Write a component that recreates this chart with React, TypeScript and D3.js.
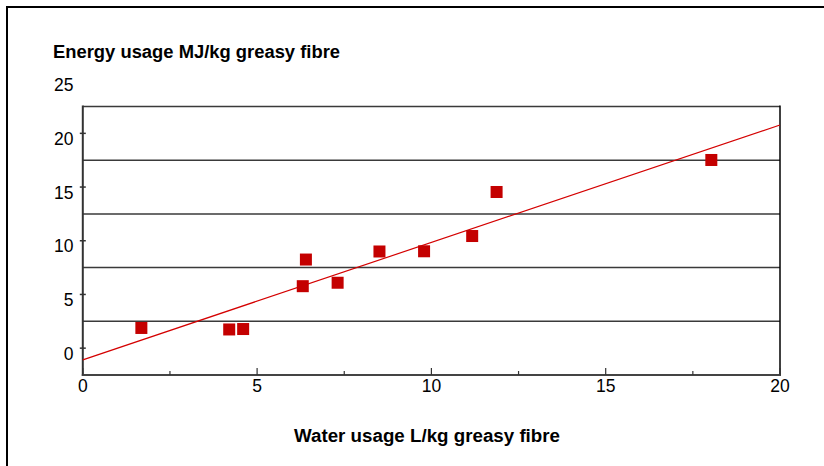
import React from "react";
import * as d3 from "d3";

const waterUsage = [1.68, 4.2, 4.6, 6.31, 6.4, 7.31, 8.51, 9.79, 11.17, 11.87, 18.03];
const energyUsage = [1.88, 1.74, 1.78, 5.77, 8.25, 6.09, 9.0, 9.02, 10.44, 14.54, 17.52];
const trendX = [0, 20];
const trendY = [-1.09, 20.78];
const xTickValues = [0, 5, 10, 15, 20];
const xMinorTicks = [2.5, 7.5, 12.5, 17.5];
const yTickValues = [0, 5, 10, 15, 20, 25];
const yGridValues = [2.5, 7.5, 12.5, 17.5, 22.5];
const yTitle = "Energy usage MJ/kg greasy fibre";
const xTitle = "Water usage L/kg greasy fibre";

export default function App() {
  const W = 824;
  const H = 466;
  const left = 82.8;
  const right = 780;
  const top = 106.5;
  const bottom = 375;
  const x = d3.scaleLinear().domain([0, 20]).range([left, right]);
  const y = d3.scaleLinear().domain([-2.5, 22.5]).range([bottom, top]);
  const font = "'Liberation Sans', Arial, sans-serif";
  const sq = 12;
  const line = d3
    .line<number>()
    .x((_, i) => x(trendX[i]))
    .y((d) => y(d));

  return (
    <svg
      width={W}
      height={H}
      style={{ position: "fixed", left: 0, top: 0, background: "#fff" }}
      fontFamily={font}
    >
      <rect x={0} y={0} width={W} height={H} fill="#fff" />
      {/* outer frame */}
      <line x1={7} y1={7} x2={W} y2={7} stroke="#000" strokeWidth={2} />
      <line x1={7} y1={6} x2={7} y2={H} stroke="#000" strokeWidth={2} />

      {/* gridlines */}
      {yGridValues.map((v) => (
        <line
          key={"g" + v}
          x1={left}
          x2={right}
          y1={y(v)}
          y2={y(v)}
          stroke="#3a3a3a"
          strokeWidth={1.5}
        />
      ))}
      {/* right border */}
      <line x1={right} x2={right} y1={top - 1} y2={bottom} stroke="#000" strokeWidth={1.5} />
      {/* y axis */}
      <line x1={left} x2={left} y1={top - 1} y2={bottom + 1} stroke="#333" strokeWidth={2} />
      {yTickValues
        .filter((v) => y(v) > top)
        .map((v) => (
          <line
            key={"yt" + v}
            x1={left - 3}
            x2={left + 3}
            y1={y(v)}
            y2={y(v)}
            stroke="#333"
            strokeWidth={1.5}
          />
        ))}
      {yTickValues.map((v) => (
        <text
          key={"yl" + v}
          x={73.5}
          y={y(v) + 5.5}
          textAnchor="end"
          dominantBaseline="central"
          fontSize={17.5}
          fill="#000"
        >
          {v}
        </text>
      ))}

      {/* x axis */}
      <line x1={left - 1} x2={right + 1} y1={bottom} y2={bottom} stroke="#444" strokeWidth={2} />
      {xTickValues.map((v) => (
        <line
          key={"xt" + v}
          x1={x(v)}
          x2={x(v)}
          y1={bottom}
          y2={bottom - 7}
          stroke="#333"
          strokeWidth={1.2}
        />
      ))}
      {xMinorTicks.map((v) => (
        <line
          key={"xm" + v}
          x1={x(v)}
          x2={x(v)}
          y1={bottom}
          y2={bottom - 4}
          stroke="#333"
          strokeWidth={1.2}
        />
      ))}
      {xTickValues.map((v) => (
        <text
          key={"xl" + v}
          x={x(v)}
          y={386}
          textAnchor="middle"
          dominantBaseline="central"
          fontSize={17.5}
          fill="#000"
        >
          {v}
        </text>
      ))}

      {/* trend line */}
      <path d={line(trendY) || ""} fill="none" stroke="#d40000" strokeWidth={1.2} />

      {/* points */}
      {waterUsage.map((wx, i) => (
        <rect
          key={"p" + i}
          x={x(wx) - sq / 2}
          y={y(energyUsage[i]) - sq / 2}
          width={sq}
          height={sq}
          fill="#c40000"
        />
      ))}

      {/* titles */}
      <text
        x={53}
        y={58}
        fontSize={18}
        fontWeight="bold"
        fill="#000"
        textLength={287}
        lengthAdjust="spacingAndGlyphs"
      >
        {yTitle}
      </text>
      <text
        x={294}
        y={442}
        fontSize={18}
        fontWeight="bold"
        fill="#000"
        textLength={266}
        lengthAdjust="spacingAndGlyphs"
      >
        {xTitle}
      </text>
    </svg>
  );
}
